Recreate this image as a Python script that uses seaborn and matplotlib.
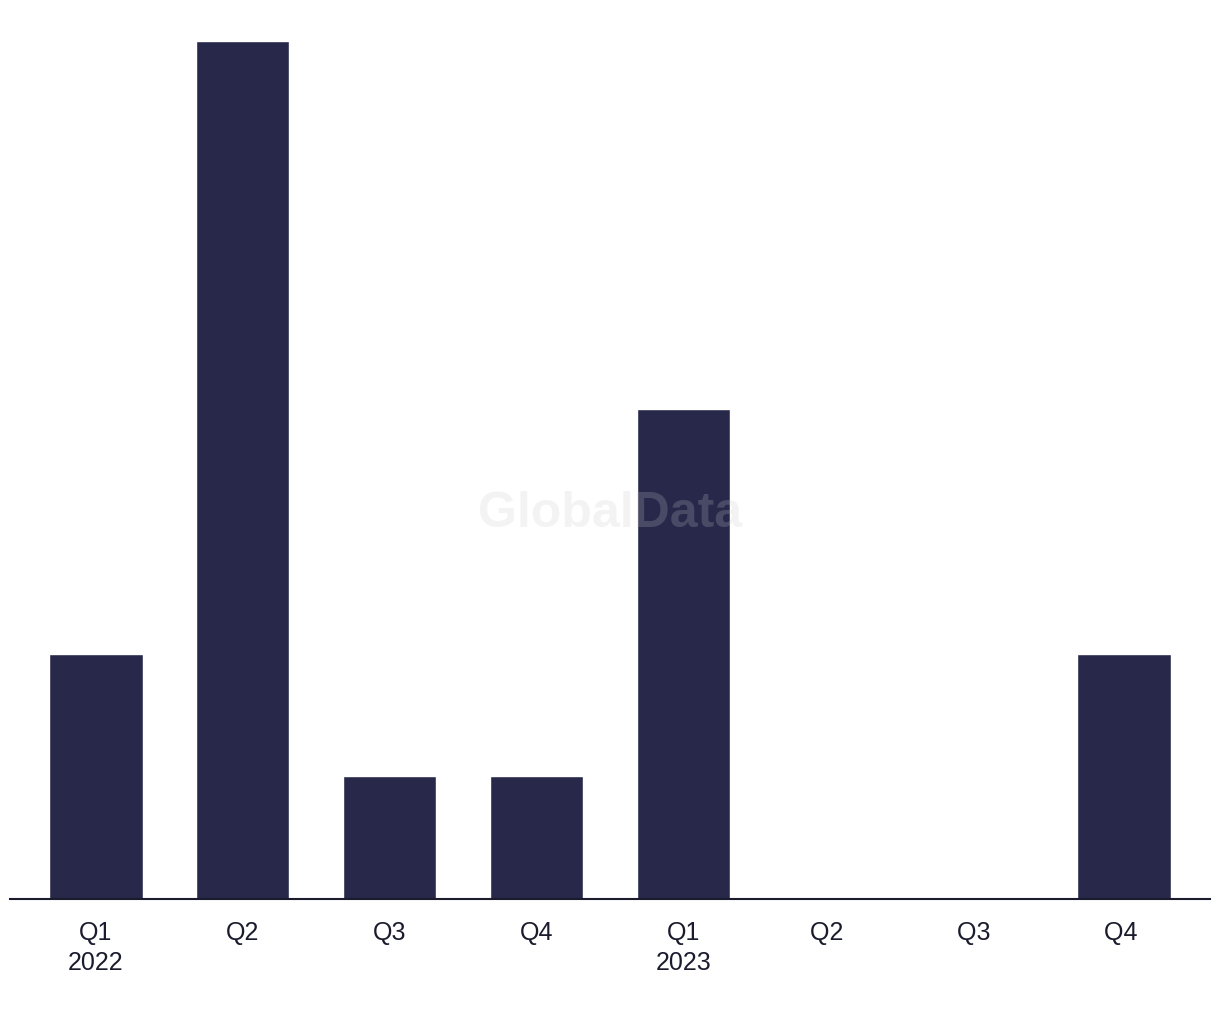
"""Quarterly bar chart, GlobalData style."""

import matplotlib

matplotlib.use("Agg")
import matplotlib.pyplot as plt
import pandas as pd
import seaborn as sns

quarters = ["Q1\n2022", "Q2", "Q3", "Q4", "Q1\n2023", "Q2 ", "Q3 ", "Q4 "]
counts = [2, 7, 1, 1, 4, 0, 0, 2]

BAR_COLOR = "#27284A"
TEXT_COLOR = "#1B1B2E"

sns.set_theme(style="white")
plt.rcParams["font.family"] = ["Liberation Sans", "DejaVu Sans"]

df = pd.DataFrame({"quarter": quarters, "count": counts})

fig = plt.figure(figsize=(12.2, 10.2), dpi=100)
ax = fig.add_axes([10 / 1220, 120 / 1020, 1200 / 1220, 858 / 1020])

sns.barplot(data=df, x="quarter", y="count", color=BAR_COLOR, width=0.635,
            saturation=1, ax=ax)

ax.set_xlim(-0.585, 7.585)
ax.set_ylim(0, 7)
ax.set_xlabel("")
ax.set_ylabel("")
ax.set_yticks([])
for side in ["top", "right", "left"]:
    ax.spines[side].set_visible(False)
ax.spines["bottom"].set_color(TEXT_COLOR)
ax.spines["bottom"].set_linewidth(1.5)
ax.tick_params(axis="x", length=0, pad=15, labelsize=18, labelcolor=TEXT_COLOR)
for lbl in ax.get_xticklabels():
    lbl.set_linespacing(1.35)

# watermark
fig.text(610 / 1220, 1 - 514 / 1020, "GlobalData", ha="center", va="center",
         fontsize=36, fontweight="bold", color="#CBCBCB", alpha=0.21)

fig.savefig("out.png", dpi=100)
plt.close(fig)
